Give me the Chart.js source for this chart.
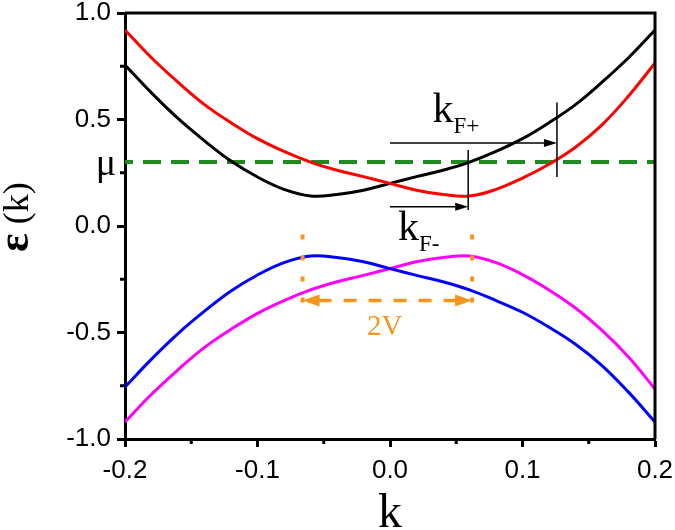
<!DOCTYPE html>
<html>
<head>
<meta charset="utf-8">
<script src="https://cdn.jsdelivr.net/npm/chart.js@4.4.1/dist/chart.umd.min.js"></script>
<style>
  body { margin: 0; background: #fff; }
  #wrap { width: 675px; height: 530px; }
</style>
</head>
<body>
<div id="wrap"><canvas id="grafico" width="675" height="530"></canvas></div>
<script>
// datos
const kValues = [-0.20, -0.18, -0.16, -0.14, -0.12, -0.10, -0.08, -0.06, -0.04, -0.02, 0.00,
                 0.02, 0.04, 0.06, 0.08, 0.10, 0.12, 0.14, 0.16, 0.18, 0.20];
const bandBlack = [0.756, 0.625, 0.505, 0.40, 0.305, 0.23, 0.172, 0.141, 0.148, 0.168, 0.20,
                   0.232, 0.262, 0.30, 0.35, 0.41, 0.485, 0.57, 0.675, 0.79, 0.92];
const bandRed = [0.92, 0.79, 0.675, 0.57, 0.485, 0.41, 0.35, 0.30, 0.262, 0.232, 0.20,
                 0.168, 0.148, 0.141, 0.172, 0.225, 0.29, 0.37, 0.475, 0.61, 0.765];
const bandBlue = [-0.756, -0.625, -0.505, -0.40, -0.305, -0.23, -0.172, -0.141, -0.148, -0.168, -0.20,
                  -0.232, -0.262, -0.30, -0.35, -0.405, -0.475, -0.555, -0.655, -0.78, -0.92];
const bandMagenta = [-0.92, -0.79, -0.675, -0.57, -0.485, -0.41, -0.35, -0.30, -0.262, -0.232, -0.20,
                     -0.168, -0.148, -0.141, -0.172, -0.228, -0.30, -0.385, -0.49, -0.615, -0.765];

const xTicks = [-0.2, -0.1, 0.0, 0.1, 0.2];
const yTicks = [-1.0, -0.5, 0.0, 0.5, 1.0];
const xMinor = [-0.15, -0.05, 0.05, 0.15];
const yMinor = [-0.75, -0.25, 0.25, 0.75];

// anotaciones (en unidades de los ejes)
const mu = 0.30;
const kFplus = 0.126, kFminus = 0.059;
const kFplusArrowY = 0.39, kFminusArrowY = 0.09;
const kFplusBar = [0.23, 0.58];
const kFminusBar = [0.075, 0.357];
const gapEdges = [-0.066, 0.062];
const gapBar = [-0.04, -0.37];
const gapArrowY = -0.35;
const kFplusLabel = [0.032, 0.49];
const kFminusLabel = [0.006, -0.066];
const gapLabel = [-0.004, -0.51];

const naranja = "#f7941e";

function serie(ys) {
    return kValues.map((k, i) => ({ x: k, y: ys[i] }));
}

function linea(label, ys, color) {
    return {
        label: label,
        data: serie(ys),
        borderColor: color,
        borderWidth: 3,
        pointRadius: 0,
        fill: false,
        tension: 0.4
    };
}

function flecha(c, x1, y, x2, largo, medio) {
    // linea horizontal con punta en x2
    const dir = x2 > x1 ? 1 : -1;
    c.beginPath();
    c.moveTo(x1, y);
    c.lineTo(x2 - dir * largo * 0.8, y);
    c.stroke();
    c.beginPath();
    c.moveTo(x2, y);
    c.lineTo(x2 - dir * largo, y - medio);
    c.lineTo(x2 - dir * largo, y + medio);
    c.closePath();
    c.fill();
}

const extras = {
    id: "extras",
    afterDatasetsDraw(chart) {
        const c = chart.ctx;
        const a = chart.chartArea;
        const sx = chart.scales.x, sy = chart.scales.y;
        c.save();

        // marco superior y derecho
        c.strokeStyle = "#000";
        c.lineWidth = 3;
        c.beginPath();
        c.moveTo(a.left, a.top);
        c.lineTo(a.right, a.top);
        c.lineTo(a.right, a.bottom);
        c.stroke();

        // ticks menores
        yMinor.forEach(v => {
            const py = sy.getPixelForValue(v);
            c.beginPath(); c.moveTo(a.left - 5, py); c.lineTo(a.left, py); c.stroke();
        });
        xMinor.forEach(v => {
            const px = sx.getPixelForValue(v);
            c.beginPath(); c.moveTo(px, a.bottom); c.lineTo(px, a.bottom + 5); c.stroke();
        });

        // lineas finas y flechas kF
        c.lineWidth = 1.5;
        c.fillStyle = "#000";
        [[kFplus, kFplusBar], [kFminus, kFminusBar]].forEach(([k, bar]) => {
            const px = sx.getPixelForValue(k);
            c.beginPath();
            c.moveTo(px, sy.getPixelForValue(bar[0]));
            c.lineTo(px, sy.getPixelForValue(bar[1]));
            c.stroke();
        });
        flecha(c, sx.getPixelForValue(0), sy.getPixelForValue(kFplusArrowY), sx.getPixelForValue(kFplus), 13, 4);
        flecha(c, sx.getPixelForValue(0), sy.getPixelForValue(kFminusArrowY), sx.getPixelForValue(kFminus), 13, 4);

        // gap naranja
        c.strokeStyle = naranja;
        c.fillStyle = naranja;
        c.lineWidth = 4;
        c.setLineDash([5, 16]);
        gapEdges.forEach(k => {
            const px = sx.getPixelForValue(k);
            c.beginPath();
            c.moveTo(px, sy.getPixelForValue(gapBar[0]));
            c.lineTo(px, sy.getPixelForValue(gapBar[1]));
            c.stroke();
        });
        c.lineWidth = 3.5;
        c.setLineDash([13, 12]);
        const gy = sy.getPixelForValue(gapArrowY);
        const gl = sx.getPixelForValue(gapEdges[0]), gr = sx.getPixelForValue(gapEdges[1]);
        c.beginPath(); c.moveTo(gl + 16, gy); c.lineTo(gr - 16, gy); c.stroke();
        c.setLineDash([]);
        [[gl, -1], [gr, 1]].forEach(([px, d]) => {
            c.beginPath();
            c.moveTo(px, gy);
            c.lineTo(px - d * 17, gy - 6);
            c.lineTo(px - d * 17, gy + 6);
            c.closePath();
            c.fill();
        });

        // textos
        c.textBaseline = "alphabetic";
        c.font = "29px 'Liberation Serif'";
        c.textAlign = "center";
        c.fillText("2V", sx.getPixelForValue(gapLabel[0]), sy.getPixelForValue(gapLabel[1]));

        c.fillStyle = "#000";
        c.textAlign = "left";
        [[kFplusLabel, "F+"], [kFminusLabel, "F-"]].forEach(([pos, sub]) => {
            const px = sx.getPixelForValue(pos[0]);
            const py = sy.getPixelForValue(pos[1]);
            c.font = "42px 'Liberation Serif'";
            c.fillText("k", px, py);
            const w = c.measureText("k").width;
            c.font = "23px 'Liberation Serif'";
            c.fillText(sub, px + w, py + 11);
        });

        // mu
        c.font = "38px 'Liberation Serif'";
        c.textAlign = "right";
        c.fillText("\u03bc", a.left - 9, sy.getPixelForValue(mu) + 13);

        // titulos de ejes
        c.textAlign = "center";
        c.font = "48px 'Liberation Serif'";
        c.fillText("k", (a.left + a.right) / 2, 527);

        c.translate(28, 252);
        c.rotate(-Math.PI / 2);
        c.textAlign = "left";
        c.font = "bold 44px 'Liberation Serif'";
        c.fillText("\u03b5", 0, 0);
        const we = c.measureText("\u03b5").width;
        c.font = "36px 'Liberation Serif'";
        c.fillText("(k)", we + 9, 0);

        c.restore();
    }
};

const ctx = document.getElementById("grafico").getContext("2d");

const chart = new Chart(ctx, {
    type: "line",
    data: {
        datasets: [
            linea("blue", bandBlue, "#0000ff"),
            linea("magenta", bandMagenta, "#ff00ff"),
            linea("red", bandRed, "#ff0000"),
            linea("black", bandBlack, "#000000"),
            {
                label: "mu",
                data: [{ x: -0.2, y: mu }, { x: 0.2, y: mu }],
                borderColor: "#1e8a1e",
                borderWidth: 4,
                borderDash: [18, 10],
                borderDashOffset: 10,
                pointRadius: 0,
                fill: false
            }
        ]
    },
    options: {
        responsive: false,
        animation: false,
        layout: { padding: { top: 13, right: 20, left: 0, bottom: 0 } },
        plugins: {
            legend: { display: false },
            tooltip: { enabled: false }
        },
        scales: {
            x: {
                type: "linear",
                min: -0.2,
                max: 0.2,
                afterBuildTicks: s => { s.ticks = xTicks.map(v => ({ value: v })); },
                afterFit: s => { s.height = 91; s.paddingLeft = 0; s.paddingRight = 0; },
                ticks: {
                    callback: v => v.toFixed(1),
                    font: { family: "'Liberation Sans'", size: 26 },
                    color: "#000",
                    padding: 8,
                    maxRotation: 0,
                    autoSkip: false
                },
                grid: { drawOnChartArea: false, tickLength: 8, tickWidth: 3, tickColor: "#000" },
                border: { color: "#000", width: 3 }
            },
            y: {
                min: -1,
                max: 1,
                afterBuildTicks: s => { s.ticks = yTicks.map(v => ({ value: v })); },
                afterFit: s => { s.width = 125; s.paddingTop = 0; s.paddingBottom = 0; },
                ticks: {
                    callback: v => v.toFixed(1),
                    font: { family: "'Liberation Sans'", size: 26 },
                    color: "#000",
                    padding: 6
                },
                grid: { drawOnChartArea: false, tickLength: 8, tickWidth: 3, tickColor: "#000" },
                border: { color: "#000", width: 3 }
            }
        }
    },
    plugins: [extras]
});
</script>
</body>
</html>
